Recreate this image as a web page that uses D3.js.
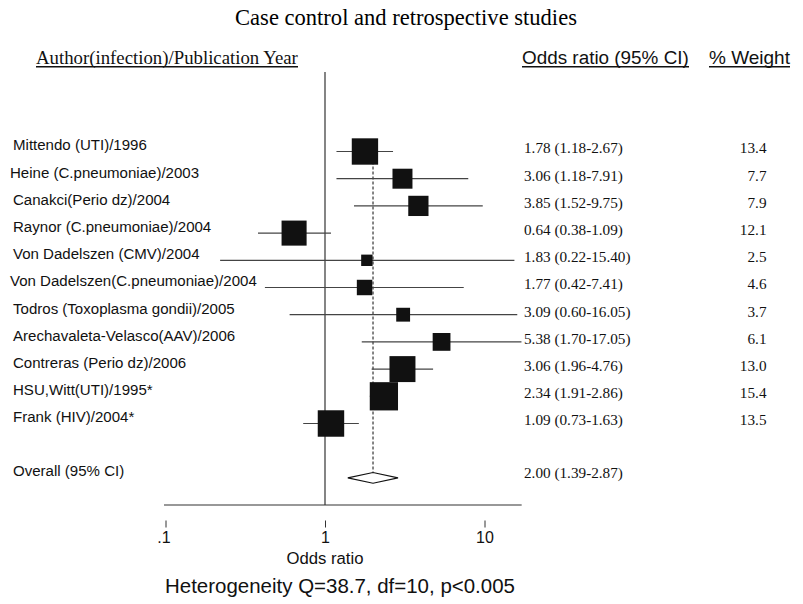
<!DOCTYPE html>
<html>
<head>
<meta charset="utf-8">
<script src="https://cdn.jsdelivr.net/npm/d3@7"></script>
<style>
  html, body { margin: 0; padding: 0; background: #fff; }
  svg { display: block; }
</style>
</head>
<body>
<svg id="chart" width="803" height="604"></svg>
<script>
// ---- data ----
const studies = [
  "Mittendo (UTI)/1996",
  "Heine (C.pneumoniae)/2003",
  "Canakci(Perio dz)/2004",
  "Raynor (C.pneumoniae)/2004",
  "Von Dadelszen (CMV)/2004",
  "Von Dadelszen(C.pneumoniae)/2004",
  "Todros (Toxoplasma gondii)/2005",
  "Arechavaleta-Velasco(AAV)/2006",
  "Contreras (Perio dz)/2006",
  "HSU,Witt(UTI)/1995*",
  "Frank (HIV)/2004*"
];
const oddsRatio = [1.78, 3.06, 3.85, 0.64, 1.83, 1.77, 3.09, 5.38, 3.06, 2.34, 1.09];
const ciLow     = [1.18, 1.18, 1.52, 0.38, 0.22, 0.42, 0.60, 1.70, 1.96, 1.91, 0.73];
const ciHigh    = [2.67, 7.91, 9.75, 1.09, 15.40, 7.41, 16.05, 17.05, 4.76, 2.86, 1.63];
const weights   = [13.4, 7.7, 7.9, 12.1, 2.5, 4.6, 3.7, 6.1, 13.0, 15.4, 13.5];
const overallLabel = "Overall (95% CI)";
const overallOR = 2.00, overallLow = 1.39, overallHigh = 2.87;
const tickValues = [0.1, 1, 10];
const tickLabels = [".1", "1", "10"];
const titleText = "Case control and retrospective studies";
const heterogeneityText = "Heterogeneity Q=38.7, df=10, p<0.005";

// ---- layout ----
const SERIF = "'Liberation Serif', 'Times New Roman', serif";
const SANS = "'Liberation Sans', Arial, Helvetica, sans-serif";
const svg = d3.select("#chart");

const x = d3.scaleLog().domain([0.1, 10]).range([165.5, 484.5]);
const y = d3.scalePoint().domain(d3.range(13)).range([151.5, 477.9]);
const boxSide = d3.scaleSqrt().domain([0, 1]).range([0, 7.2]);

function fmt(v) { return v.toFixed(2); }

function fitFont(sel, target) {
  const node = sel.node();
  const base = 20;
  sel.style("font-size", base + "px");
  const w = node.getComputedTextLength();
  return base * target / w;
}

// Title
const title = svg.append("text")
  .attr("x", 406).attr("y", 25)
  .attr("text-anchor", "middle")
  .style("font-family", SERIF)
  .text(titleText);
title.style("font-size", fitFont(title, 342) + "px");

// Headers
function header(txt, x0, width, family) {
  const t = svg.append("text")
    .attr("x", x0).attr("y", 63.5)
    .style("font-family", family)
    .style("fill", "#111")
    .text(txt);
  t.style("font-size", fitFont(t, width) + "px");
  svg.append("line")
    .attr("x1", x0).attr("x2", x0 + width)
    .attr("y1", 66.8).attr("y2", 66.8)
    .attr("stroke", "#111").attr("stroke-width", 1.6);
}
header("Author(infection)/Publication Year", 36, 262, SERIF);
header("Odds ratio (95% CI)", 522, 167, SANS);
header("% Weight", 709, 81, SANS);

// Reference line at OR = 1
svg.append("line")
  .attr("x1", x(1)).attr("x2", x(1))
  .attr("y1", 72).attr("y2", 505)
  .attr("stroke", "#333").attr("stroke-width", 1.2);

// Dashed overall line
svg.append("line")
  .attr("x1", x(overallOR)).attr("x2", x(overallOR))
  .attr("y1", y(0)).attr("y2", y(12) - 5.4)
  .attr("stroke", "#222").attr("stroke-width", 1.1)
  .attr("stroke-dasharray", "3,2");

// Axis line
svg.append("line")
  .attr("x1", x(0.1) - 1.5).attr("x2", x(17.1))
  .attr("y1", 505).attr("y2", 505)
  .attr("stroke", "#333").attr("stroke-width", 1.2);

// rows
const idx = d3.range(studies.length);

const labelProbe = svg.append("text").style("font-family", SANS).text(studies[0]);
const labelFs = fitFont(labelProbe, 134);
labelProbe.remove();
const numProbe = svg.append("text").style("font-family", SERIF).text("1.78 (1.18-2.67)");
const numFs = fitFont(numProbe, 99);
numProbe.remove();

// CI lines
svg.append("g").selectAll("line").data(idx).join("line")
  .attr("x1", i => x(ciLow[i])).attr("x2", i => x(ciHigh[i]))
  .attr("y1", i => y(i)).attr("y2", i => y(i))
  .attr("stroke", "#444").attr("stroke-width", 1.2);

// Boxes
svg.append("g").selectAll("rect").data(idx).join("rect")
  .attr("x", i => x(oddsRatio[i]) - boxSide(weights[i]) / 2)
  .attr("y", i => y(i) - boxSide(weights[i]) / 2)
  .attr("width", i => boxSide(weights[i]))
  .attr("height", i => boxSide(weights[i]))
  .attr("fill", "#111");

// Study labels
svg.append("g").selectAll("text").data(idx).join("text")
  .attr("x", i => (studies[i].indexOf("Heine") === 0 || studies[i].indexOf("Dadelszen(") > 0) ? 10 : 13)
  .attr("y", i => y(i) - 1.2)
  .style("font-family", SANS).style("font-size", labelFs + "px").style("fill", "#111")
  .text(i => studies[i]);

// OR (CI) text
svg.append("g").selectAll("text").data(idx).join("text")
  .attr("x", 524).attr("y", i => y(i) + 1.8)
  .style("font-family", SERIF).style("font-size", numFs + "px").style("fill", "#111")
  .text(i => `${fmt(oddsRatio[i])} (${fmt(ciLow[i])}-${fmt(ciHigh[i])})`);

// Weights
svg.append("g").selectAll("text").data(idx).join("text")
  .attr("x", 766.5).attr("y", i => y(i) + 1.8)
  .attr("text-anchor", "end")
  .style("font-family", SERIF).style("font-size", numFs + "px").style("fill", "#111")
  .text(i => weights[i].toFixed(1));

// Overall
const oy = y(12);
svg.append("path")
  .attr("d", `M${x(overallLow)},${oy} L${x(overallOR)},${oy - 5.4} L${x(overallHigh)},${oy} L${x(overallOR)},${oy + 5.4} Z`)
  .attr("fill", "#fff").attr("stroke", "#111").attr("stroke-width", 1.1);
svg.append("text")
  .attr("x", 13).attr("y", oy - 1.5)
  .style("font-family", SANS).style("font-size", labelFs + "px").style("fill", "#111")
  .text(overallLabel);
svg.append("text")
  .attr("x", 524).attr("y", oy + 0.5)
  .style("font-family", SERIF).style("font-size", numFs + "px").style("fill", "#111")
  .text(`${fmt(overallOR)} (${fmt(overallLow)}-${fmt(overallHigh)})`);

// Axis ticks
const axis = d3.axisBottom(x)
  .tickValues(tickValues)
  .tickFormat((d, i) => tickLabels[i])
  .tickSize(7)
  .tickPadding(4);
const ag = svg.append("g").attr("transform", "translate(0,520.5)").call(axis);
ag.select(".domain").remove();
ag.selectAll(".tick line").attr("stroke", "#333").attr("stroke-width", 1);
ag.selectAll(".tick text")
  .style("font-family", SANS).style("font-size", "16px").style("fill", "#111");
ag.selectAll(".tick text").filter((d, i) => i === 0).attr("dx", "-2");

// Axis title
const xt = svg.append("text")
  .attr("x", x(1)).attr("y", 563.5)
  .attr("text-anchor", "middle")
  .style("font-family", SANS).style("fill", "#111")
  .text("Odds ratio");
xt.style("font-size", fitFont(xt, 77) + "px");

// Heterogeneity
const ht = svg.append("text")
  .attr("x", 165).attr("y", 593)
  .style("font-family", SANS).style("fill", "#111")
  .text(heterogeneityText);
ht.style("font-size", fitFont(ht, 350) + "px");
</script>
</body>
</html>
